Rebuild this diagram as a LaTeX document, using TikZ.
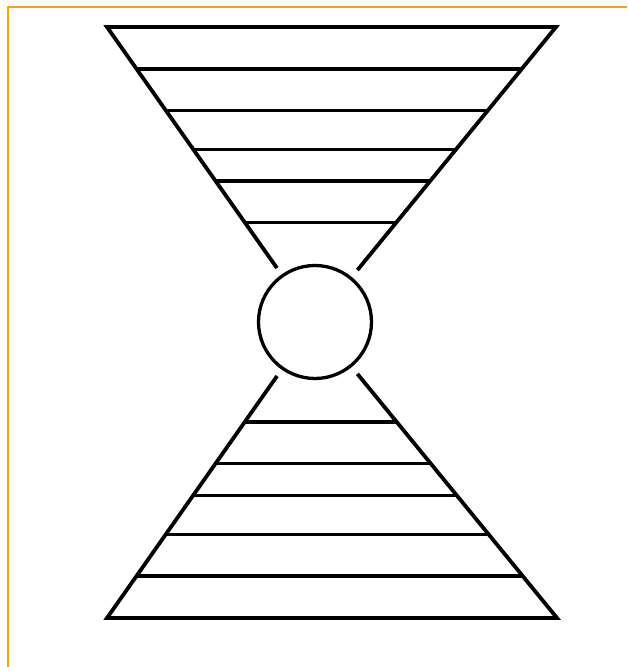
\documentclass[tikz,border=0pt]{standalone}
\usepackage{tikz}
\usetikzlibrary{calc}
\definecolor{hgframe}{HTML}{F7A21B}
\definecolor{hgink}{HTML}{000000}
\tikzset{
  frame/.style={draw=hgframe, line width=2pt},
  side/.style={draw=hgink, line width=3.8pt},
  rung/.style={draw=hgink, line width=3.3pt},
  ball/.style={circle, draw=hgink, line width=3.3pt, minimum size=113pt, inner sep=0pt},
}
\begin{document}
\begin{tikzpicture}[x=1pt, y=-1pt]
    \useasboundingbox (0,0) rectangle (627,667);
    \fill[white] (0,0) rectangle (627,667);
    \draw[frame] (8,667) -- (8,7) -- (627,7);
    % the ball in the neck
    \node[ball] (neck) at (315,322) {};
    \coordinate (tl) at (107,27);
    \coordinate (tr) at (556,27);
    \coordinate (bl) at (107,618);
    \coordinate (br) at (557,618);
    % upper and lower bowls
    \draw[side] ($(neck.center)!66pt!(tl)$) -- (tl) -- (tr) -- ($(neck.center)!67pt!(tr)$);
    \draw[side] ($(neck.center)!66pt!(bl)$) -- (bl) -- (br) -- ($(neck.center)!67pt!(br)$);
    \foreach \f in {0.142,0.283,0.415,0.522,0.662} {
      \draw[rung] ($(tl)!\f!(neck.center)$) -- ($(tr)!\f!(neck.center)$);
      \draw[rung] ($(bl)!\f!(neck.center)$) -- ($(br)!\f!(neck.center)$);
    }
  \end{tikzpicture}
\end{document}
